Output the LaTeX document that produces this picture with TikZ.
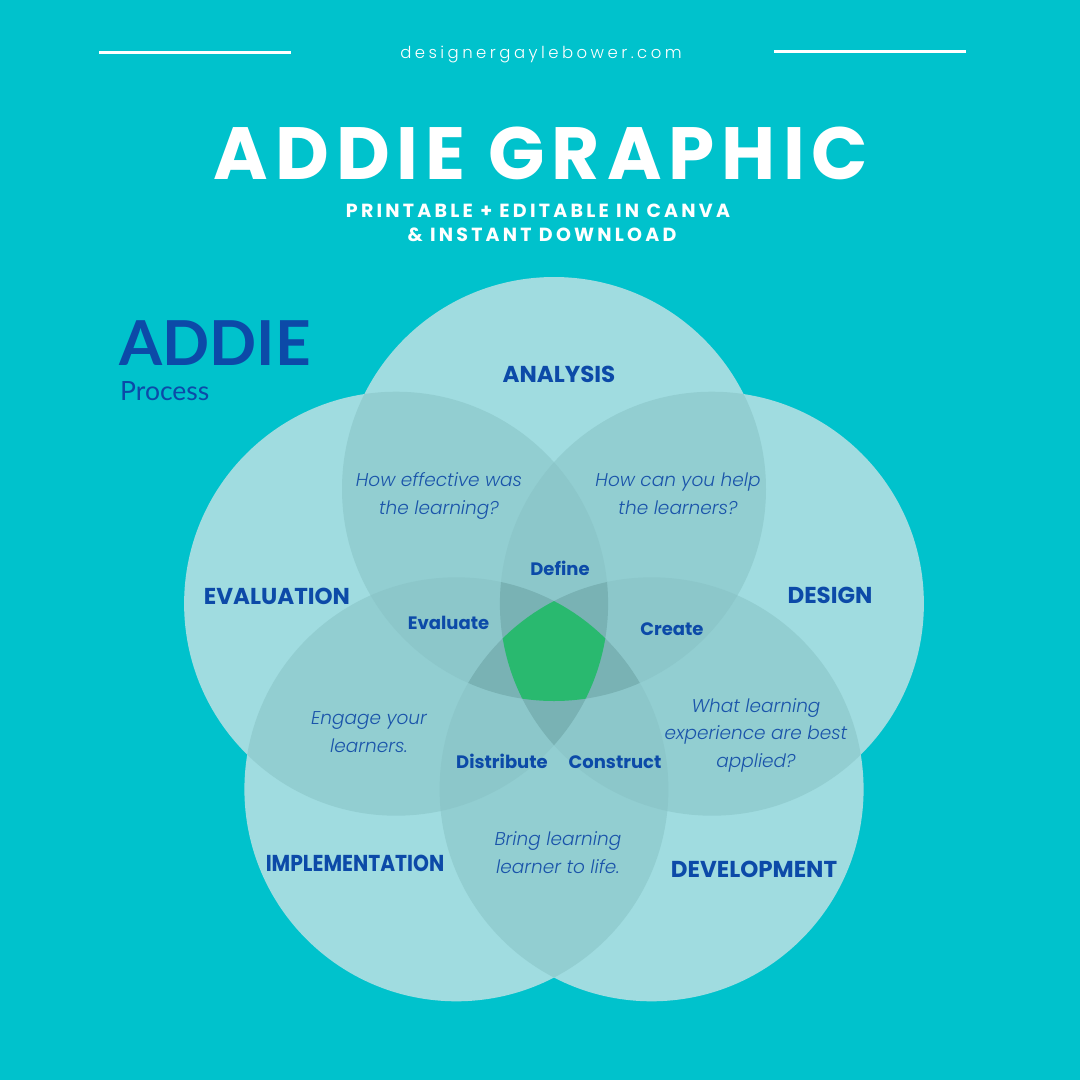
\documentclass[tikz,border=0pt]{standalone}
\usepackage{fontspec}
\setmainfont{Poppins}
\newfontfamily\popfam{Poppins}
\newfontfamily\poplight{Poppins}[UprightFont={* Light}, ItalicFont={* Light Italic}]
\newfontfamily\ttlfont{Poppins}[LetterSpace=9.5]
\newfontfamily\subfont{Poppins}[LetterSpace=17]
\newfontfamily\urlfont{Poppins}[UprightFont={* Light}, LetterSpace=21]
\newfontfamily\latof{Lato}
\definecolor{bgteal}{RGB}{0,194,204}
\definecolor{cone}{RGB}{160,220,224}
\definecolor{ctwo}{RGB}{146,206,209}
\definecolor{cthree}{RGB}{140,199,202}
\definecolor{cfour}{RGB}{121,178,180}
\definecolor{cgreen}{RGB}{41,185,111}
\definecolor{addieblue}{RGB}{12,74,168}
\definecolor{qblue}{RGB}{26,84,170}
\def\crad{212pt}
\newcommand\pairreg[3]{\begin{scope}\clip (#1) circle[radius=\crad];\fill[#3] (#2) circle[radius=\crad];\end{scope}}
\newcommand\tripreg[4]{\begin{scope}\clip (#1) circle[radius=\crad];\clip (#2) circle[radius=\crad];\fill[#4] (#3) circle[radius=\crad];\end{scope}}
\newcommand\quadreg[5]{\begin{scope}\clip (#1) circle[radius=\crad];\clip (#2) circle[radius=\crad];\clip (#3) circle[radius=\crad];\fill[#5] (#4) circle[radius=\crad];\end{scope}}
\tikzset{
  lbl/.style={font=\popfam\bfseries\fontsize{23}{28}\selectfont, text=addieblue, inner sep=0pt, anchor=base},
  inlbl/.style={font=\popfam\bfseries\fontsize{18}{22}\selectfont, text=addieblue, inner sep=0pt, anchor=base},
  qtxt/.style={font=\poplight\itshape\fontsize{18.5}{27.5}\selectfont, text=qblue, align=center, inner sep=0pt, anchor=base},
  topline/.style={white, line width=3pt},
}
\begin{document}
\begin{tikzpicture}[x=1pt,y=-1pt]
\fill[bgteal] (0,0) rectangle (1080,1080);
\useasboundingbox (0,0) rectangle (1080,1080);
% header
\coordinate (l1a) at (99,52); \coordinate (l1b) at (291,52);
\coordinate (l2a) at (774,51); \coordinate (l2b) at (966,51);
\draw[topline] (l1a) -- (l1b);
\draw[topline] (l2a) -- (l2b);
\node[inner sep=0pt, anchor=base, text=white, font=\urlfont\fontsize{16.5}{20}\selectfont] (url) at (541,58) {designergaylebower.com};
\node[inner sep=0pt, anchor=base, text=white, font=\ttlfont\bfseries\fontsize{74}{80}\selectfont] (title) at (541,179) {ADDIE GRAPHIC};
\node[inner sep=0pt, anchor=base, text=white, font=\subfont\bfseries\fontsize{19}{22}\selectfont] (sub1) at (538,217) {PRINTABLE + EDITABLE IN CANVA};
\node[inner sep=0pt, anchor=base, text=white, font=\subfont\bfseries\fontsize{19}{22}\selectfont] (sub2) at (542,241) {\& INSTANT DOWNLOAD};
% circles
\coordinate (A) at (554,489);
\coordinate (B) at (711.9,603.7);
\coordinate (C) at (651.6,789.3);
\coordinate (D) at (456.4,789.3);
\coordinate (E) at (396.1,603.7);
\foreach \c in {A,B,C,D,E} {\fill[cone] (\c) circle[radius=\crad];}
\pairreg{A}{B}{ctwo}\pairreg{A}{C}{ctwo}\pairreg{A}{D}{ctwo}\pairreg{A}{E}{ctwo}
\pairreg{B}{C}{ctwo}\pairreg{B}{D}{ctwo}\pairreg{B}{E}{ctwo}
\pairreg{C}{D}{ctwo}\pairreg{C}{E}{ctwo}\pairreg{D}{E}{ctwo}
\tripreg{A}{B}{C}{cthree}\tripreg{A}{B}{D}{cthree}\tripreg{A}{B}{E}{cthree}
\tripreg{A}{C}{D}{cthree}\tripreg{A}{C}{E}{cthree}\tripreg{A}{D}{E}{cthree}
\tripreg{B}{C}{D}{cthree}\tripreg{B}{C}{E}{cthree}\tripreg{B}{D}{E}{cthree}
\tripreg{C}{D}{E}{cthree}
\quadreg{A}{B}{C}{D}{cfour}\quadreg{A}{B}{C}{E}{cfour}\quadreg{A}{B}{D}{E}{cfour}
\quadreg{A}{C}{D}{E}{cfour}\quadreg{B}{C}{D}{E}{cfour}
\begin{scope}
\clip (A) circle[radius=\crad];\clip (B) circle[radius=\crad];\clip (C) circle[radius=\crad];\clip (D) circle[radius=\crad];
\fill[cgreen] (E) circle[radius=\crad];
\end{scope}
% ADDIE Process
\node[inner sep=0pt, anchor=base west, text=addieblue, font=\latof\bfseries\fontsize{62}{70}\selectfont] (addie) at (119,365) {ADDIE};
\node[inner sep=0pt, anchor=base west, text=addieblue, font=\latof\fontsize{26.5}{30}\selectfont] (process) at (120,400) {Process};
% phase labels
\node[lbl] (analysis) at (559,382) {ANALYSIS};
\node[lbl] (evaluation) at (277,604) {EVALUATION};
\node[lbl] (design) at (830,603) {DESIGN};
\node[lbl] (implementation) at (355,871) {\scalebox{0.88}[1]{IMPLEMENTATION}};
\node[lbl] (development) at (754,877) {DEVELOPMENT};
% inner labels
\node[inlbl] (define) at (560,575) {Define};
\node[inlbl] (evaluate) at (448.5,629) {Evaluate};
\node[inlbl] (create) at (672,635) {Create};
\node[inlbl] (distribute) at (502,768) {Distribute};
\node[inlbl] (construct) at (615,768) {Construct};
% questions (base anchor = baseline of the last line)
\node[qtxt] (q1) at (439,514) {How effective was\\the learning?};
\node[qtxt] (q2) at (678,514) {How can you help\\the learners?};
\node[qtxt] (q3) at (756,767) {What learning\\experience are best\\applied?};
\node[qtxt] (q4) at (369,752) {Engage your\\learners.};
\node[qtxt] (q5) at (558,873) {Bring learning\\learner to life.};
\end{tikzpicture}
\end{document}
